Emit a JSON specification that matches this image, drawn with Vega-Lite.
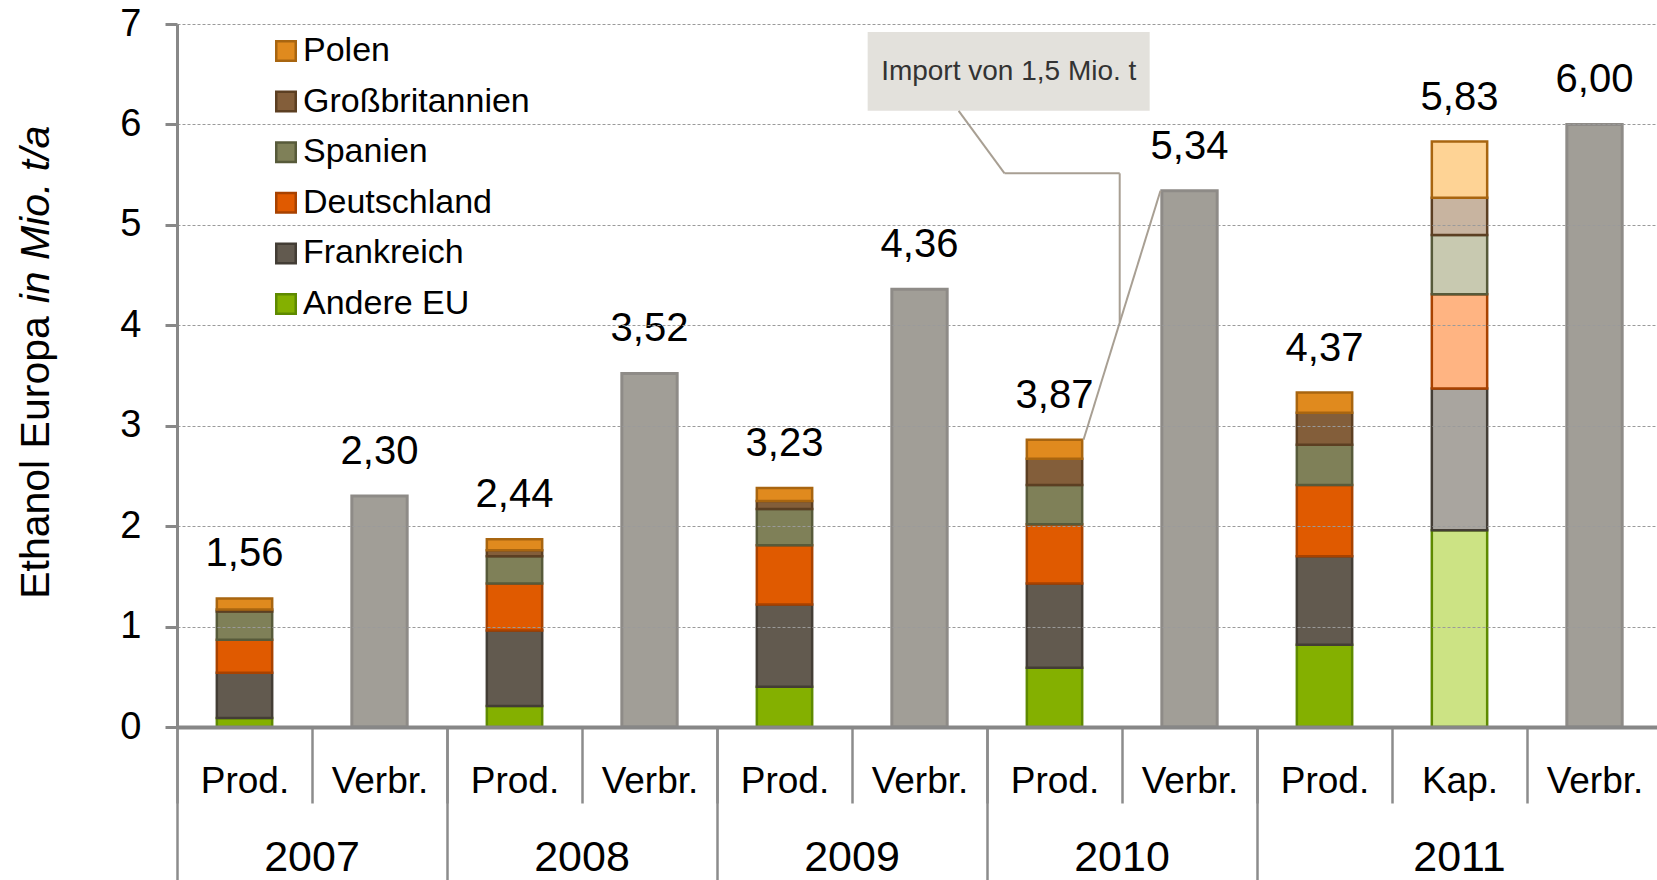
{
  "$schema": "https://vega.github.io/schema/vega-lite/v6.json",
  "width": 1480,
  "height": 703,
  "autosize": {"type": "none"},
  "padding": {"left": 177, "top": 24, "right": 0, "bottom": 153},
  "config": {"view": {"stroke": null}, "font": "Liberation Sans", "text": {"font": "Liberation Sans"}},
  "datasets": {
    "bars": [
      {"cat": "2007 Prod.", "typ": "Prod", "country": "Andere EU", "rank": 1, "value": 0.09},
      {"cat": "2007 Prod.", "typ": "Prod", "country": "Frankreich", "rank": 2, "value": 0.45},
      {"cat": "2007 Prod.", "typ": "Prod", "country": "Deutschland", "rank": 3, "value": 0.33},
      {"cat": "2007 Prod.", "typ": "Prod", "country": "Spanien", "rank": 4, "value": 0.28},
      {"cat": "2007 Prod.", "typ": "Prod", "country": "Großbritannien", "rank": 5, "value": 0.02},
      {"cat": "2007 Prod.", "typ": "Prod", "country": "Polen", "rank": 6, "value": 0.11},
      {"cat": "2008 Prod.", "typ": "Prod", "country": "Andere EU", "rank": 1, "value": 0.21},
      {"cat": "2008 Prod.", "typ": "Prod", "country": "Frankreich", "rank": 2, "value": 0.75},
      {"cat": "2008 Prod.", "typ": "Prod", "country": "Deutschland", "rank": 3, "value": 0.47},
      {"cat": "2008 Prod.", "typ": "Prod", "country": "Spanien", "rank": 4, "value": 0.27},
      {"cat": "2008 Prod.", "typ": "Prod", "country": "Großbritannien", "rank": 5, "value": 0.06},
      {"cat": "2008 Prod.", "typ": "Prod", "country": "Polen", "rank": 6, "value": 0.11},
      {"cat": "2009 Prod.", "typ": "Prod", "country": "Andere EU", "rank": 1, "value": 0.40},
      {"cat": "2009 Prod.", "typ": "Prod", "country": "Frankreich", "rank": 2, "value": 0.82},
      {"cat": "2009 Prod.", "typ": "Prod", "country": "Deutschland", "rank": 3, "value": 0.59},
      {"cat": "2009 Prod.", "typ": "Prod", "country": "Spanien", "rank": 4, "value": 0.36},
      {"cat": "2009 Prod.", "typ": "Prod", "country": "Großbritannien", "rank": 5, "value": 0.08},
      {"cat": "2009 Prod.", "typ": "Prod", "country": "Polen", "rank": 6, "value": 0.13},
      {"cat": "2010 Prod.", "typ": "Prod", "country": "Andere EU", "rank": 1, "value": 0.59},
      {"cat": "2010 Prod.", "typ": "Prod", "country": "Frankreich", "rank": 2, "value": 0.84},
      {"cat": "2010 Prod.", "typ": "Prod", "country": "Deutschland", "rank": 3, "value": 0.59},
      {"cat": "2010 Prod.", "typ": "Prod", "country": "Spanien", "rank": 4, "value": 0.39},
      {"cat": "2010 Prod.", "typ": "Prod", "country": "Großbritannien", "rank": 5, "value": 0.26},
      {"cat": "2010 Prod.", "typ": "Prod", "country": "Polen", "rank": 6, "value": 0.19},
      {"cat": "2011 Prod.", "typ": "Prod", "country": "Andere EU", "rank": 1, "value": 0.82},
      {"cat": "2011 Prod.", "typ": "Prod", "country": "Frankreich", "rank": 2, "value": 0.88},
      {"cat": "2011 Prod.", "typ": "Prod", "country": "Deutschland", "rank": 3, "value": 0.71},
      {"cat": "2011 Prod.", "typ": "Prod", "country": "Spanien", "rank": 4, "value": 0.40},
      {"cat": "2011 Prod.", "typ": "Prod", "country": "Großbritannien", "rank": 5, "value": 0.32},
      {"cat": "2011 Prod.", "typ": "Prod", "country": "Polen", "rank": 6, "value": 0.20},
      {"cat": "2011 Kap.", "typ": "Kap", "country": "Andere EU", "rank": 1, "value": 1.96},
      {"cat": "2011 Kap.", "typ": "Kap", "country": "Frankreich", "rank": 2, "value": 1.41},
      {"cat": "2011 Kap.", "typ": "Kap", "country": "Deutschland", "rank": 3, "value": 0.94},
      {"cat": "2011 Kap.", "typ": "Kap", "country": "Spanien", "rank": 4, "value": 0.59},
      {"cat": "2011 Kap.", "typ": "Kap", "country": "Großbritannien", "rank": 5, "value": 0.37},
      {"cat": "2011 Kap.", "typ": "Kap", "country": "Polen", "rank": 6, "value": 0.56},
      {"cat": "2007 Verbr.", "typ": "Verbr", "country": "Verbrauch", "rank": 1, "value": 2.30},
      {"cat": "2008 Verbr.", "typ": "Verbr", "country": "Verbrauch", "rank": 1, "value": 3.52},
      {"cat": "2009 Verbr.", "typ": "Verbr", "country": "Verbrauch", "rank": 1, "value": 4.36},
      {"cat": "2010 Verbr.", "typ": "Verbr", "country": "Verbrauch", "rank": 1, "value": 5.34},
      {"cat": "2011 Verbr.", "typ": "Verbr", "country": "Verbrauch", "rank": 1, "value": 6.00}
    ],
    "labels": [
      {"cat": "2007 Prod.", "top": 1.28, "label": "1,56"},
      {"cat": "2007 Verbr.", "top": 2.30, "label": "2,30"},
      {"cat": "2008 Prod.", "top": 1.87, "label": "2,44"},
      {"cat": "2008 Verbr.", "top": 3.52, "label": "3,52"},
      {"cat": "2009 Prod.", "top": 2.38, "label": "3,23"},
      {"cat": "2009 Verbr.", "top": 4.36, "label": "4,36"},
      {"cat": "2010 Prod.", "top": 2.86, "label": "3,87"},
      {"cat": "2010 Verbr.", "top": 5.34, "label": "5,34"},
      {"cat": "2011 Prod.", "top": 3.33, "label": "4,37"},
      {"cat": "2011 Kap.", "top": 5.83, "label": "5,83"},
      {"cat": "2011 Verbr.", "top": 6.00, "label": "6,00"}
    ]
  },
  "layer": [
    {
      "data": {"values": [{"cat": "2009 Verbr.", "cat2": "2010 Verbr.", "v": 6.92, "v2": 6.135}]},
      "mark": {"type": "rect", "fill": "#E3E1DC"},
      "encoding": {
        "x": {"field": "cat", "type": "nominal", "bandPosition": 0.116, "axis": null,
              "scale": {"domain": ["2007 Prod.","2007 Verbr.","2008 Prod.","2008 Verbr.","2009 Prod.","2009 Verbr.","2010 Prod.","2010 Verbr.","2011 Prod.","2011 Kap.","2011 Verbr."], "range": [0, 1485], "paddingInner": 0, "paddingOuter": 0}},
        "x2": {"field": "cat2", "bandPosition": 0.205},
        "y": {"field": "v", "type": "quantitative", "axis": null, "scale": {"domain": [0, 7], "nice": false}},
        "y2": {"field": "v2"}
      }
    },
    {
      "data": {"name": "bars"},
      "transform": [{"filter": "datum.typ == 'Prod'"}],
      "mark": {"type": "bar", "width": {"band": 0.41}, "strokeWidth": 2.5},
      "encoding": {
        "x": {"field": "cat", "type": "nominal",
              "scale": {"domain": ["2007 Prod.","2007 Verbr.","2008 Prod.","2008 Verbr.","2009 Prod.","2009 Verbr.","2010 Prod.","2010 Verbr.","2011 Prod.","2011 Kap.","2011 Verbr."], "range": [0, 1485], "paddingInner": 0, "paddingOuter": 0},
              "axis": {"title": null, "orient": "bottom", "tickBand": "extent", "tickSize": 76, "tickWidth": 2.5, "tickColor": "#8C8C8C",
                       "domainColor": "#878787", "domainWidth": 4, "labelExpr": "split(datum.label, ' ')[1]",
                       "labelFontSize": 37, "labelFont": "Liberation Sans", "labelColor": "#000000", "labelBaseline": "alphabetic",
                       "labelPadding": -11, "labelAngle": 0, "grid": false, "labelOverlap": false, "zindex": 1}},
        "y": {"field": "value", "type": "quantitative", "stack": "zero",
              "scale": {"domain": [0, 7], "nice": false},
              "axis": {"title": "Ethanol Europa", "titleFontSize": 41, "titleFont": "Liberation Sans", "titleFontWeight": "normal", "titleColor": "#000000",
                       "titleX": -141, "titleY": 433, "titleAngle": 270, "titleAlign": "center", "titleBaseline": "middle",
                       "values": [0, 1, 2, 3, 4, 5, 6, 7], "tickSize": 12, "tickWidth": 3, "tickColor": "#888888",
                       "domainColor": "#888888", "domainWidth": 3, "labelFontSize": 38, "labelFont": "Liberation Sans", "labelColor": "#000000",
                       "labelPadding": 24, "grid": true, "gridDash": [3, 2], "gridColor": "#9A9A9A", "gridWidth": 1, "zindex": 1}},
        "fill": {"field": "country", "type": "nominal",
                 "scale": {"domain": ["Polen", "Großbritannien", "Spanien", "Deutschland", "Frankreich", "Andere EU"],
                           "range": ["#E08A1E", "#835E3A", "#7F8058", "#E05A00", "#625A4F", "#84B000"]},
                 "legend": {"title": null, "orient": "none", "legendX": 92, "legendY": 10, "symbolType": "square", "symbolSize": 380,
                            "symbolStrokeWidth": 2.5, "labelFontSize": 34, "labelFont": "Liberation Sans", "labelColor": "#000000",
                            "labelLimit": 600, "rowPadding": 16.6, "labelOffset": 0, "padding": 0}},
        "stroke": {"field": "country", "type": "nominal",
                   "scale": {"domain": ["Polen", "Großbritannien", "Spanien", "Deutschland", "Frankreich", "Andere EU"],
                             "range": ["#A86510", "#5C3F22", "#575A3A", "#A84200", "#433D35", "#5E8A00"]},
                   "legend": {"title": null, "orient": "none", "legendX": 92, "legendY": 10, "symbolType": "square", "symbolSize": 380,
                              "symbolStrokeWidth": 2.5, "labelFontSize": 34, "labelFont": "Liberation Sans", "labelColor": "#000000",
                              "labelLimit": 600, "rowPadding": 16.6, "labelOffset": 0, "padding": 0}},
        "order": {"field": "rank", "type": "quantitative", "sort": "ascending"}
      }
    },
    {
      "data": {"name": "bars"},
      "transform": [{"filter": "datum.typ == 'Kap'"}],
      "mark": {"type": "bar", "width": {"band": 0.41}, "strokeWidth": 2.5},
      "encoding": {
        "x": {"field": "cat", "type": "nominal",
              "scale": {"domain": ["2007 Prod.","2007 Verbr.","2008 Prod.","2008 Verbr.","2009 Prod.","2009 Verbr.","2010 Prod.","2010 Verbr.","2011 Prod.","2011 Kap.","2011 Verbr."], "range": [0, 1485], "paddingInner": 0, "paddingOuter": 0},
              "axis": {"title": null, "orient": "bottom", "domain": false, "grid": false, "bandPosition": 0, "tickSize": 153, "tickWidth": 2.5,
                       "tickColor": {"condition": {"test": "indexof(['2007 Prod.','2008 Prod.','2009 Prod.','2010 Prod.','2011 Prod.'], datum.value) >= 0", "value": "#8C8C8C"}, "value": "transparent"},
                       "labelExpr": "(datum.value == '2011 Kap.' || (indexof(datum.value, 'Verbr.') > 0 && datum.value != '2011 Verbr.')) ? slice(datum.value, 0, 4) : ''",
                       "labelOffset": {"condition": {"test": "datum.value == '2011 Kap.'", "value": 0}, "value": -67.5},
                       "labelFontSize": 43, "labelFont": "Liberation Sans", "labelColor": "#000000", "labelBaseline": "alphabetic",
                       "labelPadding": -10, "labelAngle": 0, "labelOverlap": false}},
        "y": {"field": "value", "type": "quantitative", "stack": "zero",
              "scale": {"domain": [0, 7], "nice": false},
              "axis": {"orient": "left", "title": "in Mio. t/a", "titleFontStyle": "italic", "titleFontSize": 41, "titleFont": "Liberation Sans", "titleFontWeight": "normal",
                       "titleColor": "#000000", "titleX": -141, "titleY": 190, "titleAngle": 270, "titleAlign": "center", "titleBaseline": "middle",
                       "labels": false, "ticks": false, "domain": false, "grid": false}},
        "fill": {"field": "country", "type": "nominal",
                 "scale": {"domain": ["Polen", "Großbritannien", "Spanien", "Deutschland", "Frankreich", "Andere EU"],
                           "range": ["#FED395", "#C8B4A0", "#C8C9B0", "#FFB482", "#A9A59F", "#CCE384"]},
                 "legend": null},
        "stroke": {"field": "country", "type": "nominal",
                   "scale": {"domain": ["Polen", "Großbritannien", "Spanien", "Deutschland", "Frankreich", "Andere EU"],
                             "range": ["#A86510", "#5C3F22", "#575A3A", "#A84200", "#433D35", "#5E8A00"]},
                   "legend": null},
        "order": {"field": "rank", "type": "quantitative", "sort": "ascending"}
      }
    },
    {
      "data": {"name": "bars"},
      "transform": [{"filter": "datum.typ == 'Verbr'"}],
      "mark": {"type": "bar", "width": {"band": 0.41}, "fill": "#A19E97", "stroke": "#8E8B87", "strokeWidth": 3},
      "encoding": {
        "x": {"field": "cat", "type": "nominal", "axis": null,
              "scale": {"domain": ["2007 Prod.","2007 Verbr.","2008 Prod.","2008 Verbr.","2009 Prod.","2009 Verbr.","2010 Prod.","2010 Verbr.","2011 Prod.","2011 Kap.","2011 Verbr."], "range": [0, 1485], "paddingInner": 0, "paddingOuter": 0}},
        "y": {"field": "value", "type": "quantitative", "axis": null, "scale": {"domain": [0, 7], "nice": false}}
      }
    },
    {
      "data": {"name": "labels"},
      "mark": {"type": "text", "fontSize": 40, "font": "Liberation Sans", "color": "#000000", "baseline": "alphabetic", "align": "center", "dy": -32},
      "encoding": {
        "x": {"field": "cat", "type": "nominal", "axis": null,
              "scale": {"domain": ["2007 Prod.","2007 Verbr.","2008 Prod.","2008 Verbr.","2009 Prod.","2009 Verbr.","2010 Prod.","2010 Verbr.","2011 Prod.","2011 Kap.","2011 Verbr."], "range": [0, 1485], "paddingInner": 0, "paddingOuter": 0}},
        "y": {"field": "top", "type": "quantitative", "axis": null, "scale": {"domain": [0, 7], "nice": false}},
        "text": {"field": "label", "type": "nominal"}
      }
    },
    {
      "data": {"values": [{"cat": "2010 Prod.", "cat2": "2010 Verbr.", "v": 2.86, "v2": 5.34}]},
      "mark": {"type": "rule", "color": "#A89F93", "strokeWidth": 2},
      "encoding": {
        "x": {"field": "cat", "type": "nominal", "bandPosition": 0.715, "axis": null,
              "scale": {"domain": ["2007 Prod.","2007 Verbr.","2008 Prod.","2008 Verbr.","2009 Prod.","2009 Verbr.","2010 Prod.","2010 Verbr.","2011 Prod.","2011 Kap.","2011 Verbr."], "range": [0, 1485], "paddingInner": 0, "paddingOuter": 0}},
        "x2": {"field": "cat2", "bandPosition": 0.285},
        "y": {"field": "v", "type": "quantitative", "axis": null, "scale": {"domain": [0, 7], "nice": false}},
        "y2": {"field": "v2"}
      }
    },
    {
      "data": {"values": [{"cat": "2009 Verbr.", "cat2": "2010 Prod.", "v": 6.135, "v2": 5.513}]},
      "mark": {"type": "rule", "color": "#A89F93", "strokeWidth": 2},
      "encoding": {
        "x": {"field": "cat", "type": "nominal", "bandPosition": 0.79, "axis": null,
              "scale": {"domain": ["2007 Prod.","2007 Verbr.","2008 Prod.","2008 Verbr.","2009 Prod.","2009 Verbr.","2010 Prod.","2010 Verbr.","2011 Prod.","2011 Kap.","2011 Verbr."], "range": [0, 1485], "paddingInner": 0, "paddingOuter": 0}},
        "x2": {"field": "cat2", "bandPosition": 0.13},
        "y": {"field": "v", "type": "quantitative", "axis": null, "scale": {"domain": [0, 7], "nice": false}},
        "y2": {"field": "v2"}
      }
    },
    {
      "data": {"values": [{"cat": "2010 Prod.", "cat2": "2010 Prod.", "v": 5.513, "v2": 5.513}]},
      "mark": {"type": "rule", "color": "#A89F93", "strokeWidth": 2},
      "encoding": {
        "x": {"field": "cat", "type": "nominal", "bandPosition": 0.13, "axis": null,
              "scale": {"domain": ["2007 Prod.","2007 Verbr.","2008 Prod.","2008 Verbr.","2009 Prod.","2009 Verbr.","2010 Prod.","2010 Verbr.","2011 Prod.","2011 Kap.","2011 Verbr."], "range": [0, 1485], "paddingInner": 0, "paddingOuter": 0}},
        "x2": {"field": "cat2", "bandPosition": 0.983},
        "y": {"field": "v", "type": "quantitative", "axis": null, "scale": {"domain": [0, 7], "nice": false}},
        "y2": {"field": "v2"}
      }
    },
    {
      "data": {"values": [{"cat": "2010 Prod.", "cat2": "2010 Prod.", "v": 5.513, "v2": 4.03}]},
      "mark": {"type": "rule", "color": "#A89F93", "strokeWidth": 2},
      "encoding": {
        "x": {"field": "cat", "type": "nominal", "bandPosition": 0.983, "axis": null,
              "scale": {"domain": ["2007 Prod.","2007 Verbr.","2008 Prod.","2008 Verbr.","2009 Prod.","2009 Verbr.","2010 Prod.","2010 Verbr.","2011 Prod.","2011 Kap.","2011 Verbr."], "range": [0, 1485], "paddingInner": 0, "paddingOuter": 0}},
        "x2": {"field": "cat2", "bandPosition": 0.983},
        "y": {"field": "v", "type": "quantitative", "axis": null, "scale": {"domain": [0, 7], "nice": false}},
        "y2": {"field": "v2"}
      }
    },
    {
      "data": {"values": [{"cat": "2010 Prod.", "v": 6.44, "text": "Import von 1,5 Mio. t"}]},
      "mark": {"type": "text", "fontSize": 28, "font": "Liberation Sans", "color": "#333333", "baseline": "alphabetic", "align": "center"},
      "encoding": {
        "x": {"field": "cat", "type": "nominal", "bandPosition": 0.161, "axis": null,
              "scale": {"domain": ["2007 Prod.","2007 Verbr.","2008 Prod.","2008 Verbr.","2009 Prod.","2009 Verbr.","2010 Prod.","2010 Verbr.","2011 Prod.","2011 Kap.","2011 Verbr."], "range": [0, 1485], "paddingInner": 0, "paddingOuter": 0}},
        "y": {"field": "v", "type": "quantitative", "axis": null, "scale": {"domain": [0, 7], "nice": false}},
        "text": {"field": "text", "type": "nominal"}
      }
    }
  ],
  "resolve": {"scale": {"fill": "independent", "stroke": "independent"}, "axis": {"x": "independent", "y": "independent"}}
}
